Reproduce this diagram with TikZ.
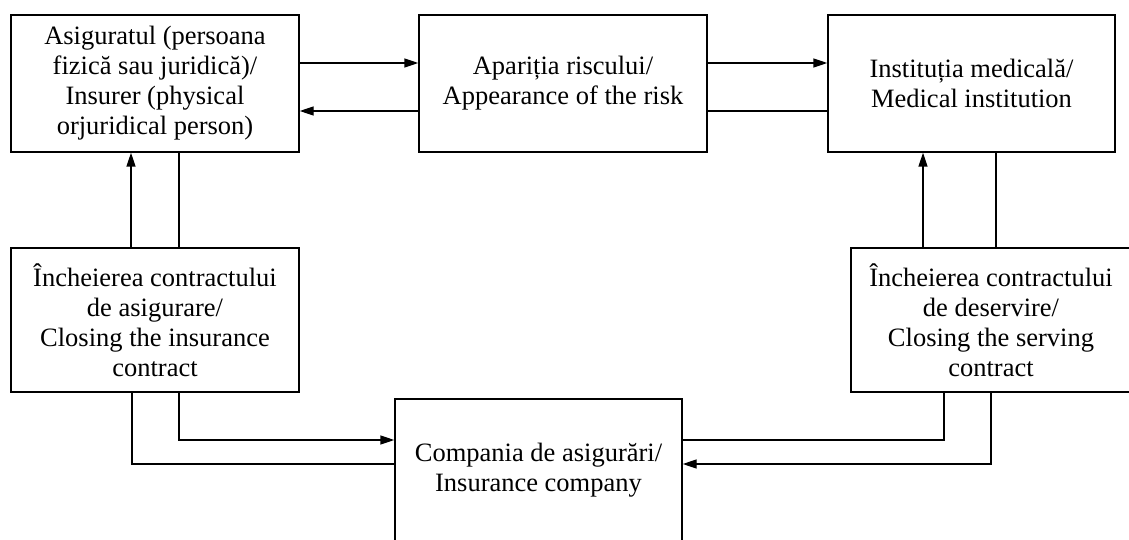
\documentclass[tikz,border=0pt]{standalone}
\usepackage{fontspec}
\setmainfont{Liberation Serif}
\usetikzlibrary{arrows.meta, calc}

\begin{document}
\begin{tikzpicture}[
    x=1pt, y=-1pt,
    box/.style={draw, line width=1.4pt, align=center, inner sep=0pt, font=\fontsize{26.5}{30}\selectfont},
    arr/.style={-{Triangle[length=14pt, width=9pt]}, line width=1.4pt},
    ln/.style={line width=1.4pt},
]
    \clip (0,0) rectangle (1129,540);

    \node[box, minimum width=288pt, minimum height=137pt] (asig) at (155,83.5) {Asiguratul (persoana\\fizică sau juridică)/\\Insurer (physical\\orjuridical person)};
    \node[box, minimum width=288pt, minimum height=137pt] (risc) at (563,83.5) {Apariția riscului/\\Appearance of the risk};
    \node[box, minimum width=287pt, minimum height=137pt] (med) at (971.5,83.5) {Instituția medicală/\\Medical institution};
    \node[box, minimum width=288pt, minimum height=144pt] (cont1) at (155,320) {Încheierea contractului\\de asigurare/\\Closing the insurance\\contract};
    \node[box, minimum width=280pt, minimum height=144pt] (cont2) at (991,320) {Încheierea contractului\\de deservire/\\Closing the serving\\contract};
    \node[box, minimum width=287pt, minimum height=142pt] (comp) at (538.5,470) {Compania de asigurări/\\Insurance company};

    % top row
    \draw[arr] ([yshift=20.5pt]asig.east) -- ([yshift=20.5pt]asig.east -| risc.west);
    \draw[arr] ([yshift=20.5pt]risc.east) -- ([yshift=20.5pt]risc.east -| med.west);
    \draw[ln] ([yshift=-27.5pt]med.west) -- ([yshift=-27.5pt]med.west -| risc.east);
    \draw[arr] ([yshift=-27.5pt]risc.west) -- ([yshift=-27.5pt]risc.west -| asig.east);

    % left and right columns
    \draw[arr] ([xshift=-24pt]cont1.north) -- ([xshift=-24pt]cont1.north |- asig.south);
    \draw[ln] ([xshift=24pt]asig.south) -- ([xshift=24pt]asig.south |- cont1.north);
    \draw[arr] ([xshift=-48.5pt]med.south |- cont2.north) -- ([xshift=-48.5pt]med.south);
    \draw[ln] ([xshift=24.5pt]med.south) -- ([xshift=24.5pt]med.south |- cont2.north);

    % to the company
    \draw[arr] ([xshift=24pt]cont1.south) |- ([yshift=30pt]comp.west);
    \draw[ln] ([xshift=-23pt]cont1.south) |- ([yshift=6pt]comp.west);
    \draw[ln] ([xshift=-47pt]cont2.south) |- ([yshift=30pt]comp.east);
    \draw[arr] (cont2.south) |- ([yshift=6pt]comp.east);
\end{tikzpicture}
\end{document}
